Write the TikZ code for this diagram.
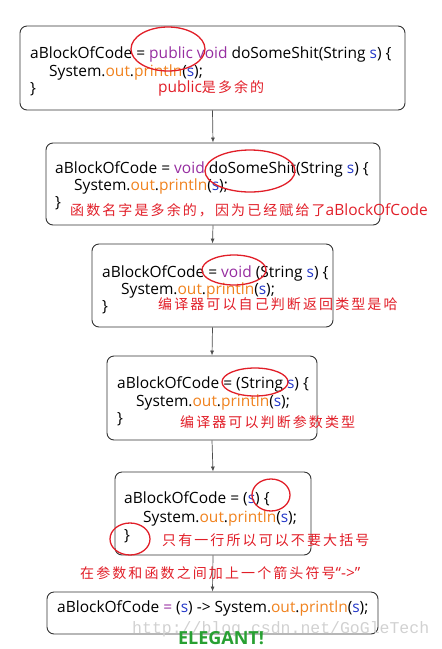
\documentclass[tikz,border=0pt]{standalone}
\usepackage{fontspec}
\usetikzlibrary{arrows.meta}
\newfontfamily\codefont{Open Sans}
\newfontfamily\cjkfont[LetterSpace=15]{Noto Sans CJK SC}
\newfontfamily\wmfont{Liberation Mono}
\definecolor{kwpurple}{RGB}{150,45,160}
\definecolor{varblue}{RGB}{35,55,200}
\definecolor{fldorange}{RGB}{240,130,30}
\definecolor{notered}{RGB}{225,30,40}
\definecolor{elegreen}{RGB}{40,160,50}
\newcommand\kw[1]{\textcolor{kwpurple}{#1}}
\newcommand\va[1]{\textcolor{varblue}{#1}}
\newcommand\fld[1]{\textcolor{fldorange}{#1}}
\newcommand\nc[1]{{\codefont\fontsize{15.5}{17}\selectfont #1}}
\tikzset{
  codebox/.style={draw=black!80,line width=0.9pt,rounded corners=7pt,inner sep=0pt},
  code/.style={anchor=base west,inner sep=0pt,font={\codefont\fontsize{15.5}{17}\selectfont}},
  note/.style={anchor=base west,inner sep=0pt,text=notered,font={\cjkfont\fontsize{14}{16}\selectfont}},
  redring/.style={draw=notered,line width=1.3pt},
  flow/.style={draw=black!70,line width=0.7pt,-{Latex[length=5pt,width=4pt]}}
}
\begin{document}
\begin{tikzpicture}[x=1pt,y=-1pt]
  \useasboundingbox (0,0) rectangle (442,649);
  % boxes
  \node[codebox,minimum width=385pt,minimum height=84pt] (b1) at (212.5,68) {};
  \node[codebox,minimum width=334pt,minimum height=82pt] (b2) at (213,184) {};
  \node[codebox,minimum width=241pt,minimum height=83pt] (b3) at (212.5,285.5) {};
  \node[codebox,minimum width=210pt,minimum height=84pt] (b4) at (212,398) {};
  \node[codebox,minimum width=196pt,minimum height=83pt] (b5) at (213,513.5) {};
  \node[codebox,minimum width=331pt,minimum height=42pt] (b6) at (212.5,613) {};
  \foreach \a/\b in {b1/b2,b2/b3,b3/b4,b4/b5,b5/b6}
    \draw[flow] (\a.south) -- (\b.north);

  % step 1
  \node[code] (c1a) at (30,58) {aBlockOfCode = \kw{public void} doSomeShit(String \va{s}) \{};
  \node[code] (c1b) at (49,76) {System.\fld{out}.\fld{println}(\va{s});};
  \node[code] (c1c) at (30,93) {\}};
  \node[note] (n1) at (158,92) {\nc{public}是多余的};
  \draw[redring] (168,49) ellipse[x radius=37,y radius=22];

  % step 2
  \node[code] (c2a) at (55,173) {aBlockOfCode = \kw{void} doSomeShit(String \va{s}) \{};
  \node[code] (c2b) at (74,190) {System.\fld{out}.\fld{println}(\va{s});};
  \node[code] (c2c) at (55,207) {\}};
  \node[note] (n2) at (70,215) {函数名字是多余的，因为已经赋给了\nc{aBlockOfCode}};
  \draw[redring] (250,171) ellipse[x radius=45,y radius=21];

  % step 3
  \node[code] (c3a) at (102,277) {aBlockOfCode = \kw{void} (String \va{s}) \{};
  \node[code] (c3b) at (121,294) {System.\fld{out}.\fld{println}(\va{s});};
  \node[code] (c3c) at (102,311) {\}};
  \node[note] (n3) at (158,309) {编译器可以自己判断返回类型是哈};
  \draw[redring] (234,270) ellipse[x radius=32,y radius=15];

  % step 4
  \node[code] (c4a) at (117,388) {aBlockOfCode = (String \va{s}) \{};
  \node[code] (c4b) at (136,406) {System.\fld{out}.\fld{println}(\va{s});};
  \node[code] (c4c) at (117,423) {\}};
  \node[note] (n4) at (180,427) {编译器可以判断参数类型};
  \draw[redring] (255,382) ellipse[x radius=33,y radius=14];

  % step 5
  \node[code] (c5a) at (124,503) {aBlockOfCode = (\va{s}) \{};
  \node[code] (c5b) at (143,522) {System.\fld{out}.\fld{println}(\va{s});};
  \node[code] (c5c) at (124,540) {\}};
  \node[note] (n5) at (162,545) {只有一行所以可以不要大括号};
  \draw[redring] (271,495) ellipse[x radius=19,y radius=16];
  \draw[redring] (130,539) ellipse[x radius=20,y radius=16];
  \node[note] (n6) at (80,578) {在参数和函数之间加上一个箭头符号\nc{“->”}};

  % step 6
  \node[code] (c6a) at (57,612) {aBlockOfCode \kw{=} (\va{s}) -> System.\fld{out}.\fld{println}(\va{s});};
  \node[anchor=base west,inner sep=0pt,text=black!18,font={\wmfont\fontsize{16.5}{18}\selectfont}] (wm) at (132,633) {http://blog.csdn.net/GoGleTech};
  \node[inner sep=0pt,text=elegreen,font={\codefont\bfseries\fontsize{18}{20}\selectfont}] (ok) at (221,638.5) {ELEGANT!};
\end{tikzpicture}
\end{document}
